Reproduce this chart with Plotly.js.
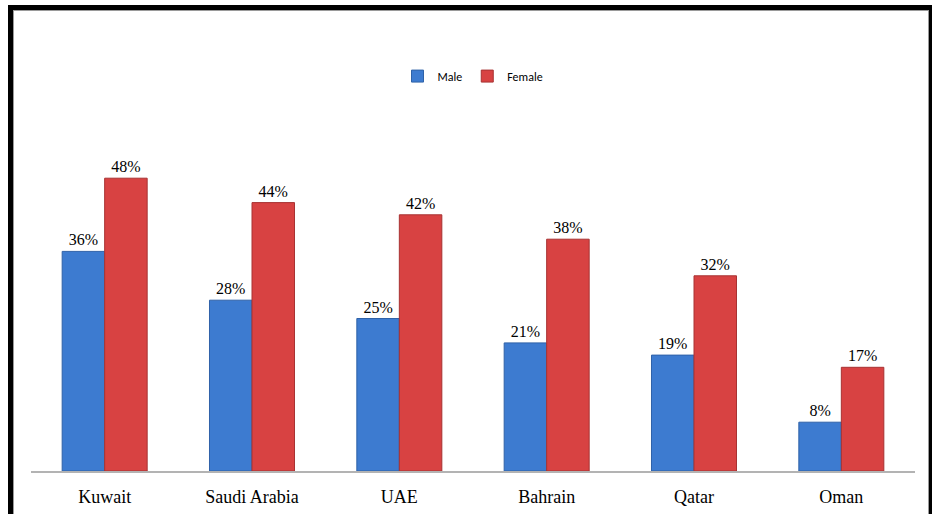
<!DOCTYPE html>
<html>
<head>
<meta charset="utf-8">
<script src="https://cdn.plot.ly/plotly-3.0.1.min.js"></script>
<style>
  html, body { margin: 0; padding: 0; background: #ffffff; overflow: hidden; }
  #chart { position: absolute; left: 0; top: 0; width: 932px; height: 514px; }
  #frame {
    position: absolute; left: 8px; top: 5px; width: 916px; height: 600px;
    border: 5px solid #000000; box-shadow: inset 0 0 0 1px #9a9a9a;
    pointer-events: none; z-index: 10;
  }
</style>
</head>
<body>
<div id="chart"></div>
<div id="frame"></div>
<script>
const countries = ["Kuwait", "Saudi Arabia", "UAE", "Bahrain", "Qatar", "Oman"];
const maleValues = [0.36, 0.28, 0.25, 0.21, 0.19, 0.08];
const femaleValues = [0.48, 0.44, 0.42, 0.38, 0.32, 0.17];
const seriesNames = ["Male", "Female"];

function pctLabels(arr) { return arr.map(v => Math.round(v * 100) + "%"); }

const labelFont = { family: "Liberation Serif, Times New Roman, serif", size: 16, color: "#000000" };

const traces = [
  {
    type: "bar", name: seriesNames[0], x: countries, y: maleValues,
    text: pctLabels(maleValues), textposition: "outside", textfont: labelFont,
    cliponaxis: false,
    marker: { color: "#3d7bd0", line: { color: "#2f62a8", width: 1 } },
    hoverinfo: "x+y"
  },
  {
    type: "bar", name: seriesNames[1], x: countries, y: femaleValues,
    text: pctLabels(femaleValues), textposition: "outside", textfont: labelFont,
    cliponaxis: false,
    marker: { color: "#d84242", line: { color: "#a83232", width: 1 } },
    hoverinfo: "x+y"
  }
];

const layout = {
  width: 932, height: 514,
  margin: { l: 31, r: 17, t: 105, b: 43, pad: 0 },
  paper_bgcolor: "#ffffff", plot_bgcolor: "#ffffff",
  barmode: "group", bargap: 0.423, bargroupgap: 0,
  showlegend: true,
  legend: {
    orientation: "h", x: 0.5, xanchor: "center", y: 1.079, yanchor: "middle",
    font: { family: "Carlito, Open Sans, Liberation Sans, sans-serif", size: 12, color: "#000000" },
    itemwidth: 30, tracegroupgap: 0, itemclick: false
  },
  xaxis: {
    type: "category", range: [-0.5, 5.5],
    showline: true, linecolor: "#b3b3b3", linewidth: 2,
    ticks: "", showgrid: false, zeroline: false,
    tickfont: { family: "Liberation Serif, Times New Roman, serif", size: 18, color: "#000000" },
    ticklabelstandoff: 8
  },
  yaxis: {
    range: [0, 0.6], visible: false, showgrid: false, zeroline: false
  },
  font: { family: "Liberation Serif, serif" }
};

Plotly.newPlot("chart", traces, layout, { displayModeBar: false, staticPlot: true });
</script>
</body>
</html>
